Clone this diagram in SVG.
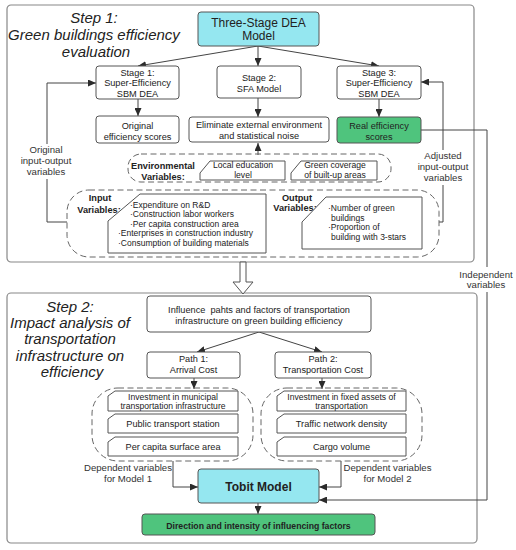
<svg xmlns="http://www.w3.org/2000/svg" width="516" height="550" viewBox="0 0 516 550">
<defs>
<marker id="ah" markerUnits="userSpaceOnUse" markerWidth="9" markerHeight="7" refX="8" refY="3.5" orient="auto">
<path d="M0,0 L8,3.5 L0,7 z" fill="#2b2b2b"/>
</marker>
<style>
text{font-family:"Liberation Sans",Arial,sans-serif;fill:#222;}
.t{font-size:9.2px;text-anchor:middle;}
.ts{font-size:8.6px;text-anchor:middle;}
.tl{font-size:8.5px;}
.lab{font-size:9.6px;text-anchor:middle;fill:#333;}
.title{font-size:15px;font-style:italic;text-anchor:middle;}
.bold{font-weight:bold;font-size:9.2px;text-anchor:middle;}
.box{fill:#fff;stroke:#555;stroke-width:1;}
.cyan{fill:#95E7F0;stroke:#555;stroke-width:1;}
.green{fill:#4FC47D;stroke:#555;stroke-width:1;}
.step{fill:#fff;stroke:#888;stroke-width:1.2;}
.dash{fill:none;stroke:#666;stroke-width:1;stroke-dasharray:6,3.5;}
.shape{fill:#fff;stroke:#555;stroke-width:1;}
.con{fill:none;stroke:#444;stroke-width:1;marker-end:url(#ah);}
.bg{fill:#fff;}
</style>
</defs>

<g id="step1-frame"><rect class="step" x="7" y="5" width="467" height="257" rx="4"/></g>
<g id="step2-frame"><rect class="step" x="7" y="293" width="470" height="250" rx="4"/></g>

<g id="step1-title">
<text class="title" x="94" y="23">Step 1:</text>
<text class="title" x="94" y="40">Green buildings efficiency</text>
<text class="title" x="96" y="57">evaluation</text>
</g>
<g id="step2-title">
<text class="title" x="70" y="312">Step 2:</text>
<text class="title" x="70" y="328">Impact analysis of</text>
<text class="title" x="70" y="344">transportation</text>
<text class="title" x="70" y="361">infrastructure on</text>
<text class="title" x="72" y="377">efficiency</text>
</g>

<g id="connectors">
<line class="con" x1="258" y1="46" x2="138" y2="66"/>
<line class="con" x1="258" y1="46" x2="258" y2="66"/>
<line class="con" x1="258" y1="46" x2="379" y2="66"/>
<line class="con" x1="138" y1="99" x2="138" y2="116"/>
<line class="con" x1="258" y1="98" x2="258" y2="117"/>
<line class="con" x1="379" y1="99" x2="379" y2="117"/>
<line class="con" x1="258" y1="155" x2="258" y2="143"/>
<polyline class="con" points="67,222 47,222 47,83 96,83"/>
<polyline class="con" points="439,222 443,222 443,82 421,82"/>
<polyline class="con" points="421,130 487,130 487,500 319,500"/>
<line class="con" x1="259" y1="332" x2="197" y2="352"/>
<line class="con" x1="259" y1="332" x2="322" y2="352"/>
<line class="con" x1="194" y1="378" x2="194" y2="389"/>
<line class="con" x1="322" y1="378" x2="322" y2="389"/>
<polyline class="con" points="173,461 173,487 198,487"/>
<polyline class="con" points="341,461 341,487 319,487"/>
<line class="con" x1="258" y1="503" x2="258" y2="514"/>
<polygon points="240,262 246,262 246,282 253,282 243,294 233,282 240,282" fill="#fff" stroke="#555" stroke-width="1"/>
</g>

<g id="label-original">
<rect class="bg" x="18" y="144" width="57" height="35"/>
<text class="lab" x="46" y="153">Original</text>
<text class="lab" x="46" y="164">input-output</text>
<text class="lab" x="46" y="175">variables</text>
</g>
<g id="label-adjusted">
<rect class="bg" x="415" y="150" width="56" height="35"/>
<text class="lab" x="443" y="159">Adjusted</text>
<text class="lab" x="443" y="170">input-output</text>
<text class="lab" x="443" y="181">variables</text>
</g>
<g id="label-independent">
<rect class="bg" x="458" y="267" width="56" height="25"/>
<text class="lab" x="486" y="277.5">Independent</text>
<text class="lab" x="486" y="288">variables</text>
</g>

<g id="dea">
<rect class="cyan" x="198" y="12" width="121" height="34" rx="3"/>
<text x="258.5" y="27" style="font-size:12px;text-anchor:middle;">Three-Stage DEA</text>
<text x="258.5" y="40" style="font-size:12px;text-anchor:middle;">Model</text>
</g>
<g id="stage1">
<rect class="box" x="96" y="66" width="83" height="33" rx="3"/>
<text class="t" x="137.5" y="76">Stage 1:</text>
<text class="t" x="137.5" y="86.3">Super-Efficiency</text>
<text class="t" x="137.5" y="96.7">SBM DEA</text>
</g>
<g id="stage2">
<rect class="box" x="217" y="66" width="84" height="32" rx="3"/>
<text class="t" x="259" y="81">Stage 2:</text>
<text class="t" x="259" y="92">SFA Model</text>
</g>
<g id="stage3">
<rect class="box" x="337" y="66" width="84" height="33" rx="3"/>
<text class="t" x="379" y="76">Stage 3:</text>
<text class="t" x="379" y="86.3">Super-Efficiency</text>
<text class="t" x="379" y="96.7">SBM DEA</text>
</g>
<g id="original-scores">
<rect class="box" x="96" y="116" width="83" height="27" rx="3"/>
<text class="t" x="137.5" y="129">Original</text>
<text class="t" x="137.5" y="139.5">efficiency scores</text>
</g>
<g id="eliminate">
<rect class="box" x="189" y="117" width="140" height="25" rx="3"/>
<text class="t" x="259" y="128.3">Eliminate external environment</text>
<text class="t" x="259" y="139">and statistical noise</text>
</g>
<g id="real-scores">
<rect class="green" x="337" y="117" width="84" height="26" rx="3"/>
<text class="t" x="379" y="129">Real efficiency</text>
<text class="t" x="379" y="139.5">scores</text>
</g>

<g id="env-vars">
<rect class="dash" x="128" y="154" width="263" height="28" rx="13"/>
<text class="bold" x="163" y="168.5">Environmental</text>
<text class="bold" x="163" y="179.5">Variables:</text>
<polygon class="shape" points="210,161 285,161 285,180 200,180 200,173"/>
<text class="ts" x="243" y="168">Local education</text>
<text class="ts" x="243" y="177.5">level</text>
<polygon class="shape" points="301,161 377,161 377,180 291,180 291,173"/>
<text class="ts" x="335" y="168">Green coverage</text>
<text class="ts" x="335" y="177.5">of built-up areas</text>
</g>

<g id="io-vars">
<rect class="dash" x="67" y="190" width="372" height="67" rx="22"/>
<text class="bold" x="100" y="201">Input</text>
<text class="bold" x="99" y="213">Variables:</text>
<polygon class="shape" points="140,194 266,194 266,253 108,253 108,221"/>
<text class="tl" x="130" y="207.5">·Expenditure on R&amp;D</text>
<text class="tl" x="130" y="217">·Construction labor workers</text>
<text class="tl" x="130" y="226.5">·Per capita construction area</text>
<text class="tl" x="118" y="236">·Enterprises in construction industry</text>
<text class="tl" x="118" y="245.5">·Consumption of building materials</text>
<text class="bold" x="297" y="201">Output</text>
<text class="bold" x="295" y="211">Variables:</text>
<polygon class="shape" points="326,197 422,197 422,249 302,249 302,222"/>
<text class="tl" x="328" y="211">·Number of green</text>
<text class="tl" x="331" y="220.5">buildings</text>
<text class="tl" x="328" y="230">·Proportion of</text>
<text class="tl" x="331" y="239.5">building with 3-stars</text>
</g>

<g id="influence">
<rect class="box" x="147" y="296" width="224" height="36" rx="3"/>
<text class="t" x="259" y="313" xml:space="preserve">Influence  pahts and factors of transportation</text>
<text class="t" x="259" y="324">infrastructure on green building efficiency</text>
</g>
<g id="path1">
<rect class="box" x="147" y="352" width="93" height="26" rx="3"/>
<text class="t" x="193.5" y="362">Path 1:</text>
<text class="t" x="193.5" y="373">Arrival Cost</text>
</g>
<g id="path2">
<rect class="box" x="275" y="352" width="96" height="26" rx="3"/>
<text class="t" x="323" y="362">Path 2:</text>
<text class="t" x="323" y="373">Transportation Cost</text>
</g>

<g id="path1-factors">
<rect class="dash" x="92" y="388" width="161" height="73" rx="26"/>
<polygon class="shape" points="115,391 238,391 238,411 108,411 108,396"/>
<text class="ts" x="173" y="399.5">Investment in municipal</text>
<text class="ts" x="173" y="409">transportation infrastructure</text>
<polygon class="shape" points="115,414 238,414 238,433 108,433 108,419"/>
<text class="t" x="173" y="427">Public transport station</text>
<polygon class="shape" points="115,437 238,437 238,456 108,456 108,442"/>
<text class="t" x="173" y="450">Per capita surface area</text>
</g>
<g id="path2-factors">
<rect class="dash" x="261" y="388" width="161" height="73" rx="26"/>
<polygon class="shape" points="284,391 406,391 406,411 277,411 277,396"/>
<text class="ts" x="341.5" y="399.5">Investment in fixed assets of</text>
<text class="ts" x="341.5" y="409">transportation</text>
<polygon class="shape" points="284,414 406,414 406,433 277,433 277,419"/>
<text class="t" x="341.5" y="427">Traffic network density</text>
<polygon class="shape" points="284,437 406,437 406,456 277,456 277,442"/>
<text class="t" x="341.5" y="450">Cargo volume</text>
</g>

<g id="label-model1">
<text class="lab" x="128" y="471">Dependent variables</text>
<text class="lab" x="128" y="482">for Model 1</text>
</g>
<g id="label-model2">
<text class="lab" x="387.5" y="471">Dependent variables</text>
<text class="lab" x="387.5" y="482">for Model 2</text>
</g>

<g id="tobit">
<rect class="cyan" x="198" y="469" width="121" height="34" rx="3"/>
<text x="258.5" y="490.5" style="font-size:12px;font-weight:bold;text-anchor:middle;">Tobit Model</text>
</g>
<g id="direction">
<rect class="green" x="142" y="514" width="233" height="21" rx="3"/>
<text x="258.5" y="528.5" style="font-size:8.7px;font-weight:bold;text-anchor:middle;">Direction and intensity of influencing factors</text>
</g>
</svg>
